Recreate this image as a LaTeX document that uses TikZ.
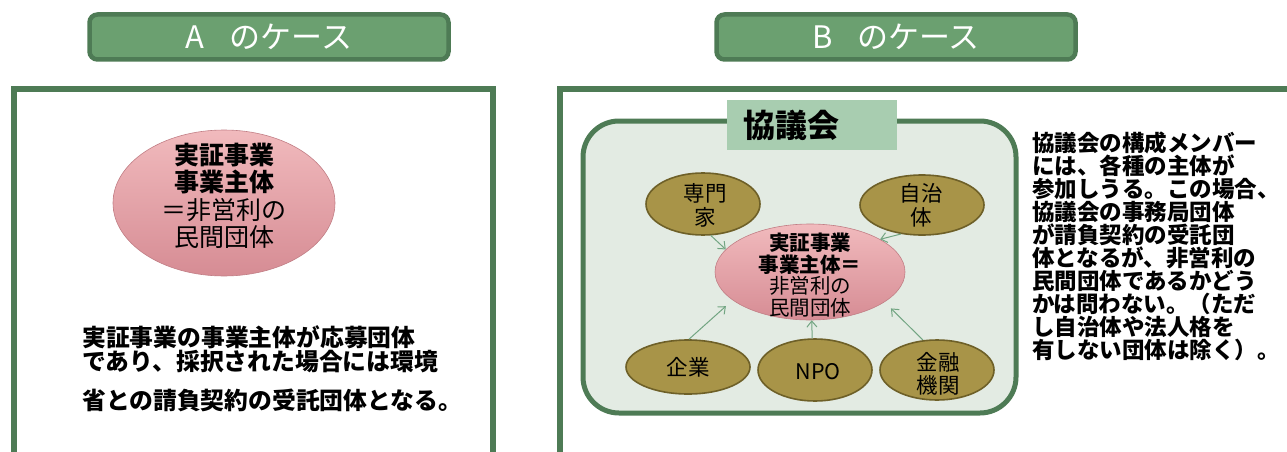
\documentclass[tikz,border=0pt]{standalone}
\usepackage{fontspec}
\setmainfont{Noto Sans CJK JP}
\newcommand\jpb{\bfseries}
\newcommand\jpm{\bfseries}
\usetikzlibrary{shapes.geometric,arrows.meta}
\definecolor{frame}{HTML}{4E7B55}
\definecolor{hdrfill}{HTML}{6BA070}
\definecolor{grpfill}{HTML}{E3EBE3}
\definecolor{lblfill}{HTML}{A8CDB0}
\definecolor{olive}{HTML}{A89448}
\definecolor{olivedark}{HTML}{6E6028}
\definecolor{pinktop}{HTML}{F1BABD}
\definecolor{pinkbot}{HTML}{D68C94}
\definecolor{arrowgreen}{HTML}{72A582}
\begin{document}
\begin{tikzpicture}[x=1pt,y=-1pt,
  header/.style={draw=frame, line width=4.5pt, fill=hdrfill, rounded corners=8pt,
    minimum width=359pt, minimum height=45pt, inner sep=0pt, text=white,
    font=\fontsize{31}{33}\selectfont},
  panel/.style={draw=frame, line width=6pt},
  group/.style={draw=frame, line width=5pt, fill=grpfill, rounded corners=36pt,
    minimum width=433pt, minimum height=292pt, inner sep=0pt},
  lblbox/.style={fill=lblfill, minimum width=170pt, minimum height=50pt, inner sep=0pt},
  pinkell/.style={ellipse, inner sep=0pt, top color=pinktop, bottom color=pinkbot,
    draw=pinkbot!90!black, line width=0.6pt},
  oliveell/.style={ellipse, inner sep=0pt, fill=olive, draw=olivedark, line width=1.6pt},
  lbl/.style={align=center, inner sep=0pt},
  arr/.style={draw=arrowgreen, line width=1pt, -{Straight Barb[length=6pt,width=10pt]}},
  para/.style={anchor=west, inner sep=0pt, font=\jpb\fontsize{23.8}{25}\selectfont}
]
\useasboundingbox (0,0) rectangle (1287,452);

% headers
\node[header] (hA) at (269,37) {A\hspace{0.8em}のケース};
\node[header] (hB) at (896,37) {B\hspace{0.8em}のケース};

% panels
\draw[panel] (14,452) -- (14,89) -- (493,89) -- (493,452);
\draw[panel] (560,452) -- (560,89) -- (1287,89);

% case A
\node[pinkell, minimum width=222pt, minimum height=146pt] (pA) at (224,203) {};
\node[lbl, font=\fontsize{25}{27.5}\selectfont] (pAt) at (224,196)
  {\jpm 実証事業\\\jpm 事業主体\\＝非営利の\\民間団体};
\node[para] (pa1) at (82,337) {実証事業の事業主体が応募団体};
\node[para] (pa2) at (82,362) {であり、採択された場合には環境};
\node[para] (pa3) at (82,400) {省との請負契約の受託団体となる。};

% case B
\node[group] (council) at (799.5,267) {};
\node[lblbox] (clbl) at (812,125) {};
\node[lbl, font=\jpb\fontsize{32}{34}\selectfont] (clblt) at (791,125) {協議会};

\node[pinkell, minimum width=190pt, minimum height=96pt] (pB) at (810,272) {};
\node[lbl, font=\fontsize{20.5}{21.8}\selectfont] (pBt) at (810,275)
  {\jpb 実証事業\\\jpb 事業主体＝\\非営利の\\民間団体};

\node[oliveell, minimum width=114pt, minimum height=62pt] (senmon) at (703,204) {};
\node[lbl, font=\fontsize{21.5}{24}\selectfont] (senmont) at (705,205) {専門\\家};
\node[oliveell, minimum width=124pt, minimum height=60pt] (jichi) at (922,205) {};
\node[lbl, font=\fontsize{21.5}{24}\selectfont] (jichit) at (921,205) {自治\\体};
\node[oliveell, minimum width=124pt, minimum height=54pt] (kigyo) at (688,367) {};
\node[lbl, font=\fontsize{21.5}{24}\selectfont] (kigyot) at (688,367) {企業};
\node[oliveell, minimum width=114pt, minimum height=62pt] (npo) at (815,370) {};
\node[lbl, font=\fontsize{21.5}{24}\selectfont] (npot) at (818,372) {NPO};
\node[oliveell, minimum width=114pt, minimum height=60pt] (kinyu) at (937,370) {};
\node[lbl, font=\fontsize{21.5}{23}\selectfont] (kinyut) at (938,374) {金融\\機関};

\draw[arr] (senmon.-76) -- (pB.165);
\draw[arr] (jichi.-126) -- (pB.25);
\draw[arr, shorten >=9pt] (kigyo.88) -- (pB.200);
\draw[arr] (npo.95) -- (pB.-88);
\draw[arr, shorten >=9pt] (kinyu.115) -- (pB.-22);

\node[anchor=west, align=left, inner sep=0pt,
  font=\jpb\fontsize{22.5}{23}\selectfont] (note) at (1032,246.5)
  {協議会の構成メンバー\\には、各種の主体が\\参加しうる。この場合、\\協議会の事務局団体\\が請負契約の受託団\\体となるが、非営利の\\民間団体であるかどう\\かは問わない。（ただ\\し自治体や法人格を\\有しない団体は除く）。};
\end{tikzpicture}
\end{document}
